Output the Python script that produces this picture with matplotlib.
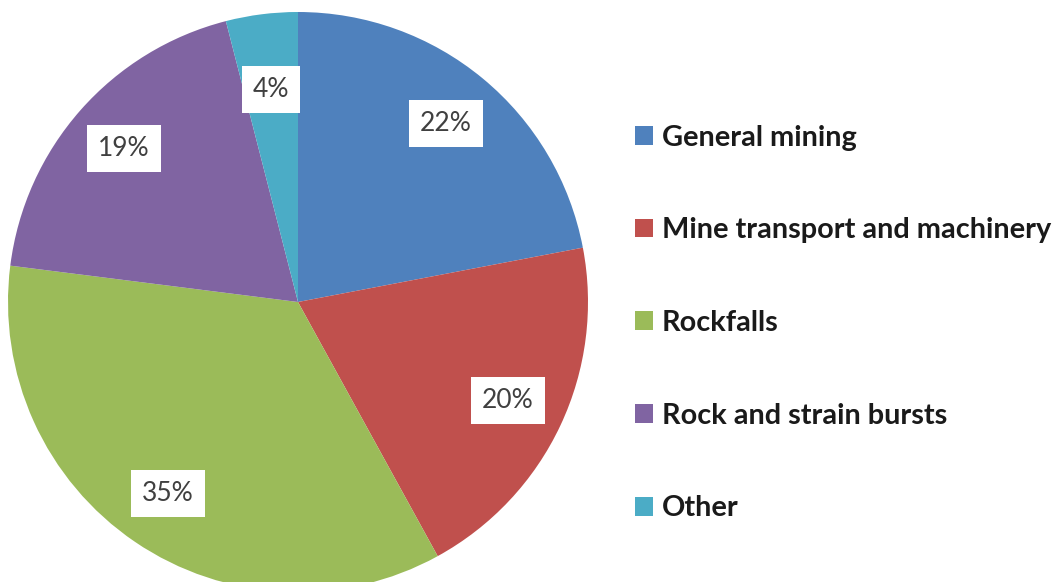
import matplotlib
matplotlib.use("Agg")
import matplotlib.pyplot as plt
from matplotlib.patches import Patch
import numpy as np

categories = ["General mining", "Mine transport and machinery", "Rockfalls",
              "Rock and strain bursts", "Other"]
shares = [22, 20, 35, 19, 4]
colors = ["#4F81BD", "#C0504D", "#9BBB59", "#8064A2", "#4BACC6"]

W, H, DPI = 1059, 582, 100
fig = plt.figure(figsize=(W / DPI, H / DPI), dpi=DPI)

# pie axes: centre (298, 302) px, radius 290 px
cx, cy, r = 298, 302, 290
ax = fig.add_axes([(cx - r) / W, (H - cy - r) / H, 2 * r / W, 2 * r / H])
wedges, texts, autotexts = ax.pie(
    shares, colors=colors, startangle=90, counterclock=False,
    autopct=lambda p: f"{p:.0f}%", pctdistance=0.8,
    wedgeprops=dict(linewidth=0),
    textprops=dict(family="Lato", fontsize=19, color="#404040"),
)
for t in autotexts:
    t.set_bbox(dict(facecolor="white", edgecolor="none", boxstyle="square,pad=0.42"))

# the narrow slice keeps its label a little closer to the centre
w = wedges[-1]
mid = np.deg2rad((w.theta1 + w.theta2) / 2)
autotexts[-1].set_position((0.74 * np.cos(mid), 0.74 * np.sin(mid)))

ax.set_xlim(-1, 1)
ax.set_ylim(-1, 1)
ax.set_aspect("equal")
ax.axis("off")

handles = [Patch(facecolor=c, edgecolor="none") for c in colors]
leg = fig.legend(handles, categories, loc="center left",
                 bbox_to_anchor=(635 / W, (H - 323) / H), frameon=False,
                 prop=dict(family="Lato", weight="bold", size=20.8),
                 handlelength=0.62, handleheight=0.62, handletextpad=0.3,
                 labelspacing=2.31, borderpad=0.0, borderaxespad=0.0)
for txt in leg.get_texts():
    txt.set_color("#1a1a1a")

fig.savefig("out.png", dpi=DPI, facecolor="white")
